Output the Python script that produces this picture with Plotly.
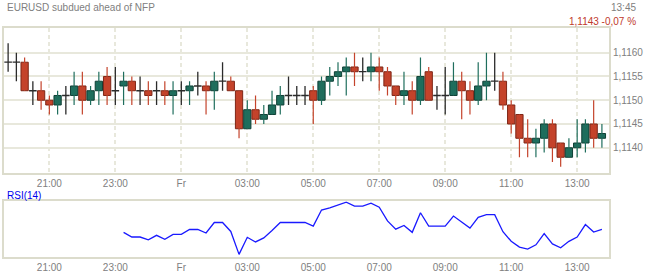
import plotly.graph_objects as go

# ---------------- data ----------------
tick_idx = [5, 13, 21, 29, 37, 45, 53, 61, 69]
tick_labels = ["21:00", "23:00", "Fr", "03:00", "05:00", "07:00", "09:00", "11:00", "13:00"]

price_ticks = [1.1140, 1.1145, 1.1150, 1.1155, 1.1160]
price_tick_labels = ["1,1140", "1,1145", "1,1150", "1,1155", "1,1160"]

opens = [1.1158, 1.1158, 1.1158, 1.1152, 1.1152, 1.1150, 1.1149, 1.1151, 1.1151, 1.1153,
         1.1150, 1.1152, 1.1155, 1.1152, 1.1153, 1.1154, 1.1152, 1.1152, 1.1152, 1.1152,
         1.1151, 1.1152, 1.1152, 1.1153, 1.1153, 1.1152, 1.1154, 1.1154, 1.1152, 1.1144,
         1.1148, 1.1146, 1.1147, 1.1149, 1.1151, 1.1151, 1.1151, 1.1152, 1.1150, 1.1154,
         1.1155, 1.1156, 1.1157, 1.1156, 1.1156, 1.1157, 1.1156, 1.1153, 1.1151, 1.1152,
         1.1150, 1.1156, 1.1151, 1.1151, 1.1151, 1.1154, 1.1152, 1.1150, 1.1153, 1.1154,
         1.1154, 1.1149, 1.1147, 1.1142, 1.1141, 1.1142, 1.1145, 1.1141, 1.1138, 1.1140,
         1.1141, 1.1145, 1.1142]
highs = [1.1162, 1.1160, 1.1159, 1.1154, 1.1154, 1.1151, 1.1152, 1.1153, 1.1156, 1.1156,
         1.1153, 1.1156, 1.1157, 1.1157, 1.1156, 1.1155, 1.1155, 1.1154, 1.1154, 1.1154,
         1.1154, 1.1154, 1.1154, 1.1156, 1.1154, 1.1156, 1.1158, 1.1155, 1.1152, 1.1150,
         1.1151, 1.1149, 1.1152, 1.1153, 1.1155, 1.1153, 1.1153, 1.1153, 1.1155, 1.1157,
         1.1158, 1.1159, 1.1160, 1.1159, 1.1160, 1.1159, 1.1157, 1.1153, 1.1156, 1.1154,
         1.1159, 1.1157, 1.1153, 1.1157, 1.1158, 1.1156, 1.1154, 1.1158, 1.1160, 1.1160,
         1.1156, 1.1150, 1.1147, 1.1146, 1.1144, 1.1146, 1.1146, 1.1141, 1.1142, 1.1146,
         1.1146, 1.1150, 1.1145]
lows = [1.1156, 1.1154, 1.1152, 1.1149, 1.1148, 1.1147, 1.1147, 1.1147, 1.1149, 1.1147,
        1.1149, 1.1149, 1.1149, 1.1149, 1.1149, 1.1149, 1.1149, 1.1149, 1.1149, 1.1149,
        1.1147, 1.1149, 1.1149, 1.1151, 1.1147, 1.1148, 1.1152, 1.1152, 1.1142, 1.1144,
        1.1145, 1.1145, 1.1147, 1.1147, 1.1149, 1.1149, 1.1149, 1.1145, 1.1149, 1.1151,
        1.1153, 1.1151, 1.1153, 1.1154, 1.1154, 1.1152, 1.1151, 1.1149, 1.1149, 1.1147,
        1.1149, 1.1150, 1.1148, 1.1147, 1.1151, 1.1146, 1.1147, 1.1149, 1.1150, 1.1152,
        1.1148, 1.1143, 1.1138, 1.1138, 1.1138, 1.1139, 1.1137, 1.1136, 1.1138, 1.1138,
        1.1139, 1.1140, 1.1140]
closes = [1.1158, 1.1158, 1.1152, 1.1152, 1.1150, 1.1149, 1.1151, 1.1151, 1.1153, 1.1150,
          1.1152, 1.1154, 1.1151, 1.1152, 1.1154, 1.1152, 1.1152, 1.1151, 1.1152, 1.1151,
          1.1152, 1.1152, 1.1153, 1.1153, 1.1152, 1.1154, 1.1154, 1.1152, 1.1144, 1.1148,
          1.1146, 1.1147, 1.1149, 1.1151, 1.1151, 1.1151, 1.1151, 1.1150, 1.1154, 1.1155,
          1.1156, 1.1157, 1.1156, 1.1156, 1.1157, 1.1156, 1.1153, 1.1151, 1.1152, 1.1150,
          1.1155, 1.1150, 1.1151, 1.1151, 1.1154, 1.1152, 1.1150, 1.1153, 1.1154, 1.1154,
          1.1149, 1.1145, 1.1142, 1.1141, 1.1142, 1.1145, 1.1140, 1.1138, 1.1140, 1.1141,
          1.1145, 1.1142, 1.1143]

rsi_start = 14
rsi_values = [46.5, 41.5, 41.5, 38.4, 43.3, 39.1, 44.4, 44.4, 49.6, 49.6,
              45.8, 57.1, 57.1, 47.5, 22.8, 41.2, 36.2, 40.5, 48.6, 57.1,
              57.1, 57.1, 57.1, 53.2, 70.5, 72.9, 75.8, 78.9, 74.7, 74.7,
              77.9, 73.6, 58.8, 50.0, 53.9, 46.5, 67.6, 53.2, 53.2, 53.2,
              64.1, 57.1, 51.1, 62.7, 65.5, 65.5, 47.2, 36.9, 30.6, 28.5,
              33.1, 45.1, 34.1, 29.9, 36.9, 41.5, 54.9, 46.8, 49.6]

# ---------------- styling ----------------
UP_FILL, UP_EDGE = "#1f6e5d", "#0f3f35"
DN_FILL, DN_EDGE = "#c4432b", "#7e2616"
DOJI = "#2b2b2b"
GRID = "#e8e8dc"
BORDER = "#dcdccc"
TXT = "#808080"
FONT = "Liberation Sans, Arial, sans-serif"
HALF = 0.46

idx = list(range(len(opens)))

up_x, up_y = [], []
dn_x, dn_y = [], []
dj_x, dj_y = [], []
bx, bbase, bh, bcol, bline = [], [], [], [], []
for i in idx:
    o, h, l, c = opens[i], highs[i], lows[i], closes[i]
    if abs(c - o) < 1e-9:
        dj_x += [i, i, None, i - HALF, i + HALF, None]
        dj_y += [l, h, None, o, o, None]
    else:
        if c > o:
            up_x += [i, i, None]; up_y += [l, h, None]
            bcol.append(UP_FILL); bline.append(UP_EDGE)
        else:
            dn_x += [i, i, None]; dn_y += [l, h, None]
            bcol.append(DN_FILL); bline.append(DN_EDGE)
        bx.append(i); bbase.append(o); bh.append(c - o)

fig = go.Figure()
fig.add_trace(go.Scatter(x=up_x, y=up_y, mode="lines", line=dict(color=UP_FILL, width=1.2),
                         hoverinfo="skip", xaxis="x", yaxis="y"))
fig.add_trace(go.Scatter(x=dn_x, y=dn_y, mode="lines", line=dict(color=DN_FILL, width=1.2),
                         hoverinfo="skip", xaxis="x", yaxis="y"))
fig.add_trace(go.Scatter(x=dj_x, y=dj_y, mode="lines", line=dict(color=DOJI, width=1.3),
                         hoverinfo="skip", xaxis="x", yaxis="y"))
fig.add_trace(go.Bar(x=bx, y=bh, base=bbase, width=0.88,
                     marker=dict(color=bcol, line=dict(color=bline, width=1)),
                     xaxis="x", yaxis="y"))

rsi_x = list(range(rsi_start, rsi_start + len(rsi_values)))
fig.add_trace(go.Scatter(x=rsi_x, y=rsi_values, mode="lines",
                         line=dict(color="#1a1aff", width=1.3), xaxis="x2", yaxis="y2"))

xr = [-0.5, 72.86]
common_x = dict(range=xr, tickmode="array", tickvals=tick_idx, ticktext=tick_labels,
                ticks="", showline=True, mirror=True, linecolor=BORDER, linewidth=2,
                zeroline=False, tickfont=dict(size=10, color=TXT, family=FONT))

fig.update_layout(
    width=645, height=275,
    margin=dict(l=2, r=32, t=28, b=17),
    paper_bgcolor="white", plot_bgcolor="white",
    showlegend=False, barmode="overlay",
    xaxis=dict(domain=[0, 1], anchor="y", showgrid=True, gridcolor=GRID, gridwidth=1.5,
               griddash="4px,3px", **common_x),
    yaxis=dict(domain=[0.365, 1.0], anchor="x", side="right", range=[1.11346, 1.11652],
               tickmode="array", tickvals=price_ticks, ticktext=price_tick_labels,
               ticks="", showgrid=True, gridcolor=GRID, gridwidth=1.8, zeroline=False,
               showline=True, mirror=True, linecolor=BORDER, linewidth=2,
               tickfont=dict(size=10, color=TXT, family=FONT)),
    xaxis2=dict(domain=[0, 1], anchor="y2", showgrid=False, **common_x),
    yaxis2=dict(domain=[0, 0.2435], anchor="x2", range=[20, 80], showgrid=False,
                showticklabels=False, ticks="", zeroline=False,
                showline=True, mirror=True, linecolor=BORDER, linewidth=2),
    annotations=[
        dict(text="EURUSD subdued ahead of NFP", xref="paper", yref="paper",
             x=0.0012, y=(258 - 7.5) / 230, xanchor="left", yanchor="middle",
             showarrow=False, font=dict(size=10, color=TXT, family=FONT)),
        dict(text="13:45", xref="paper", yref="paper",
             x=(642 - 2) / 611, y=(258 - 7) / 230, xanchor="right", yanchor="middle",
             showarrow=False, font=dict(size=10, color=TXT, family=FONT)),
        dict(text="1,1143 -0,07 %", xref="paper", yref="paper",
             x=(642 - 2) / 611, y=(258 - 21.5) / 230, xanchor="right", yanchor="middle",
             showarrow=False, font=dict(size=10, color="#c0392b", family=FONT)),
        dict(text="RSI(14)", xref="paper", yref="paper",
             x=0.0012, y=(258 - 196) / 230, xanchor="left", yanchor="middle",
             showarrow=False, font=dict(size=10, color="#0000ee", family=FONT)),
    ],
)

fig.write_html("out.html")
